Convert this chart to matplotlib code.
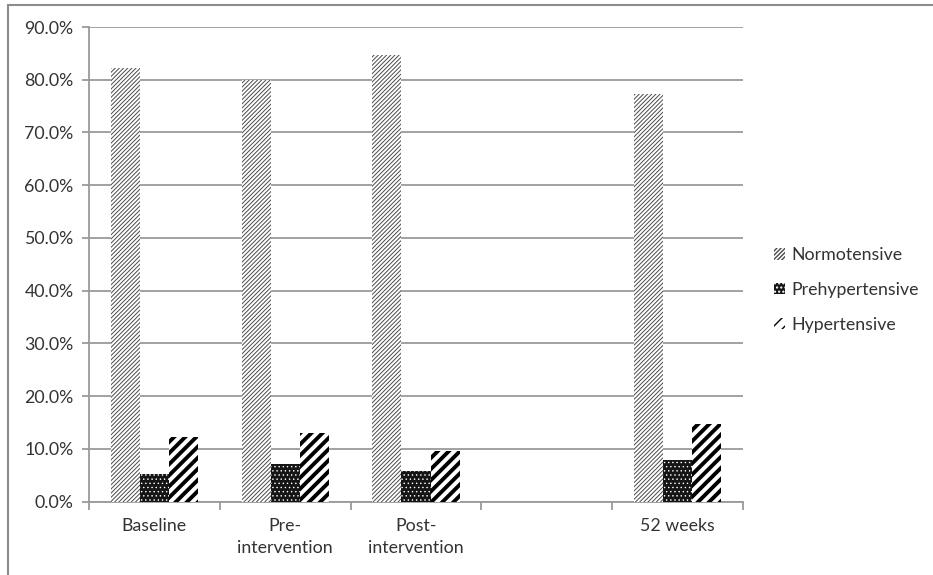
import matplotlib.pyplot as plt
import numpy as np
from matplotlib.patches import Rectangle

# Dados do gráfico (proporções em %)
categorias = ['Baseline', 'Pre-\nintervention', 'Post-\nintervention', '', '52 weeks']
normotensive = [82.2, 80.0, 84.7, 0.0, 77.3]
prehypertensive = [5.3, 7.2, 5.8, 0.0, 7.9]
hypertensive = [12.3, 12.9, 9.6, 0.0, 14.7]
series_nomes = ['Normotensive', 'Prehypertensive', 'Hypertensive']
y_ticks = [0, 10, 20, 30, 40, 50, 60, 70, 80, 90]

plt.rcParams['font.family'] = ['Lato', 'DejaVu Sans']
cor_texto = '#333333'
cor_grade = '#9a9a9a'
fs = 12.8

fig = plt.figure(figsize=(9.33, 5.75), dpi=100)
ax = fig.add_axes([89 / 933, 1 - 501.5 / 575, (743 - 89) / 933, (501.5 - 27) / 575])

# Moldura externa (recortada como no original)
fig.patches.append(Rectangle((8 / 933, -0.1), 1.2, 1 - 4.5 / 575 + 0.1, transform=fig.transFigure,
                             fill=False, edgecolor='#8c8c8c', linewidth=1.5))

x = np.arange(len(categorias))
w = 0.222

# Barras com hachuras (sem borda)
estilos = [
    dict(facecolor='white', edgecolor='#4a4a4a', hatch='////////', hlw=0.7),
    dict(facecolor='#151515', edgecolor='white', hatch='....', hlw=0.5),
    dict(facecolor='white', edgecolor='black', hatch='///', hlw=2.8),
]
dados = [normotensive, prehypertensive, hypertensive]
for i, (vals, est, nome) in enumerate(zip(dados, estilos, series_nomes)):
    with plt.rc_context({'hatch.linewidth': est['hlw']}):
        bars = ax.bar(x + (i - 1) * w, vals, w, facecolor=est['facecolor'], edgecolor=est['edgecolor'],
                      hatch=est['hatch'], linewidth=0, label=nome, zorder=3)
        for b in bars:
            if hasattr(b, 'set_hatch_linewidth'):
                b.set_hatch_linewidth(est['hlw'])

ax.set_xlim(-0.5, len(categorias) - 0.5)
ax.set_ylim(0, 90)
ax.set_yticks(y_ticks)
ax.set_yticklabels(['%.1f%%' % v for v in y_ticks], fontsize=fs, color=cor_texto)
ax.set_xticks(x)
ax.set_xticklabels(categorias, fontsize=fs, color=cor_texto, linespacing=1.45)
ax.set_xticks(np.arange(-0.5, len(categorias)), minor=True)
ax.tick_params(axis='x', which='major', length=0, pad=12)
ax.tick_params(axis='x', which='minor', length=6, color=cor_grade, width=1.3)
ax.tick_params(axis='y', length=5, color=cor_grade, width=1.3, pad=6)

ax.grid(axis='y', color=cor_grade, linewidth=1.3, zorder=0)
ax.set_axisbelow(True)
for s in ['top', 'right']:
    ax.spines[s].set_visible(False)
for s in ['left', 'bottom']:
    ax.spines[s].set_color(cor_grade)
    ax.spines[s].set_linewidth(1.3)

leg = fig.legend(loc='center left', bbox_to_anchor=(758 / 933, 1 - 290 / 575), frameon=False,
                 fontsize=fs, handlelength=0.6, handleheight=0.6, handletextpad=0.35,
                 labelspacing=1.05, labelcolor=cor_texto)

fig.savefig('out.png', dpi=100)
